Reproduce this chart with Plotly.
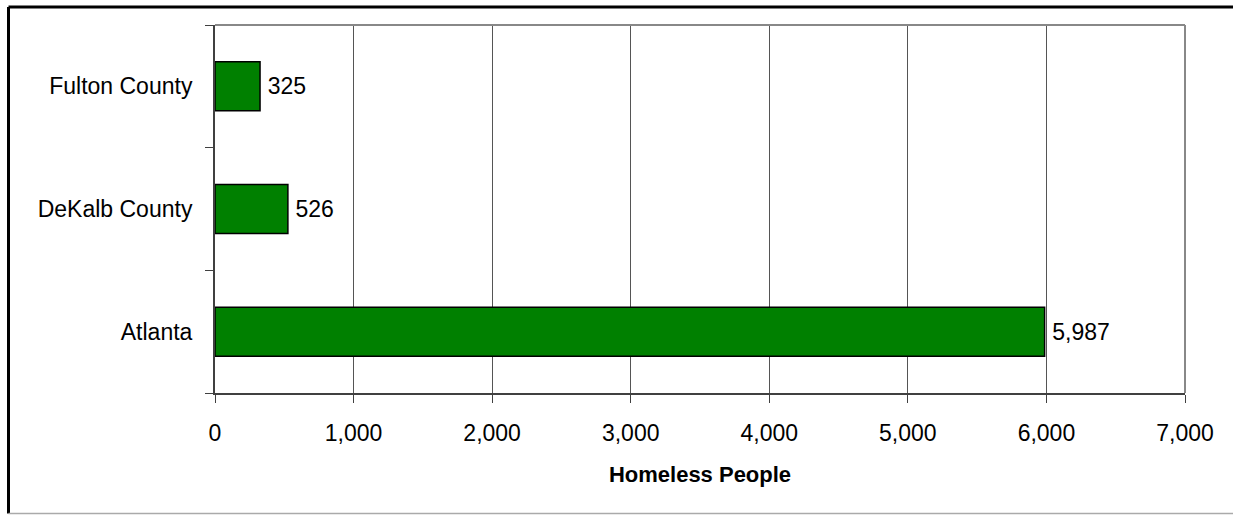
import plotly.graph_objects as go

categories = ["Atlanta", "DeKalb County", "Fulton County"]
values = [5987, 526, 325]
x_ticks = [0, 1000, 2000, 3000, 4000, 5000, 6000, 7000]
x_title = "Homeless People"

W, H = 1233, 515
L, R, T, B = 215, 1185, 25, 393
FONT = "Arial, Liberation Sans, sans-serif"

def px(x):
    return (x - L) / (R - L)

def py(y):
    return (B - y) / (B - T)

fig = go.Figure(go.Bar(
    y=categories, x=values, orientation="h",
    marker=dict(color="#008000", line=dict(color="#000000", width=1.5)),
    text=[f"\u2009{v:,}" for v in values], textposition="outside",
    textfont=dict(family=FONT, size=23, color="#000000"),
    cliponaxis=False,
))

fig.update_layout(
    width=W, height=H,
    margin=dict(l=L, r=W - R, t=T, b=H - B, pad=0),
    paper_bgcolor="white", plot_bgcolor="white",
    bargap=0.6, showlegend=False,
    font=dict(family=FONT, size=23, color="#000000"),
    xaxis=dict(
        range=[0, 7000], tickvals=x_ticks, ticktext=[f"{t:,}" for t in x_ticks],
        showgrid=True, gridcolor="#555555", gridwidth=1,
        showline=True, linecolor="#404040", linewidth=2,
        ticks="outside", ticklen=8, tickcolor="#404040", tickwidth=1,
        zeroline=False, ticklabelstandoff=10,
        title=dict(text=f"<b>{x_title}</b>", font=dict(size=22, family=FONT), standoff=22),
        tickfont=dict(size=23),
    ),
    yaxis=dict(
        categoryorder="array", categoryarray=categories,
        showline=True, linecolor="#404040", linewidth=2,
        ticks="outside", tickson="boundaries", ticklen=8, tickcolor="#404040", tickwidth=1,
        showgrid=False, ticklabelstandoff=16,
        tickfont=dict(size=23),
    ),
    shapes=[
        # plot area top and right border
        dict(type="line", xref="paper", yref="paper", x0=0, x1=1, y0=1, y1=1,
             line=dict(color="#888888", width=2)),
        dict(type="line", xref="paper", yref="paper", x0=1, x1=1, y0=0, y1=1,
             line=dict(color="#888888", width=2)),
        # outer chart border
        dict(type="line", xref="paper", yref="paper", x0=px(8.5), x1=px(1240), y0=py(7), y1=py(7),
             line=dict(color="#000000", width=3)),
        dict(type="line", xref="paper", yref="paper", x0=px(8.5), x1=px(8.5), y0=py(7), y1=py(513.5),
             line=dict(color="#000000", width=3)),
        dict(type="line", xref="paper", yref="paper", x0=px(8.5), x1=px(1240), y0=py(513.5), y1=py(513.5),
             line=dict(color="#aaaaaa", width=1.5)),
    ],
)

fig.write_html("out.html")
